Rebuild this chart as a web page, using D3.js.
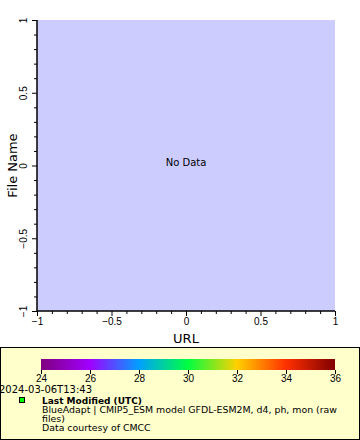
<!doctype html>
<html lang="en">
<head>
  <meta charset="utf-8">
  <title>No Data</title>
  <style>
    body { margin: 0; background: #fff; }
    svg { display: block; font-family: "DejaVu Sans", sans-serif; }
    .tick text { font-size: 10px; }
  </style>
</head>
<body>
  <div id="chart"></div>
  <script src="https://cdn.jsdelivr.net/npm/d3@7"></script>
  <script>
  // axis ranges and tick labels
  var xDomain = [-1, 1];
  var yDomain = [-1, 1];
  var majorTicks = [-1, -0.5, 0, 0.5, 1];
  var minorTicks = [-0.9, -0.8, -0.7, -0.6, -0.4, -0.3, -0.2, -0.1, 0.1, 0.2, 0.3, 0.4, 0.6, 0.7, 0.8, 0.9];
  // colour bar
  var colorDomain = [24, 36];
  var colorTicks = [24, 26, 28, 30, 32, 34, 36];
  var paletteColors = ["#800080", "#a000ff", "#00a0ff", "#00ff40", "#ffd000", "#ff3000", "#800000"];
  var legendLines = ["BlueAdapt | CMIP5_ESM model GFDL-ESM2M, d4, ph, mon (raw", "files)", "Data courtesy of CMCC"];

  var width = 360, height = 440;
  var plot = {left: 37, top: 20, right: 335, bottom: 311};

  var svg = d3.select("#chart").append("svg")
      .attr("width", width)
      .attr("height", height);

  var x = d3.scaleLinear().domain(xDomain).range([plot.left, plot.right]);
  var y = d3.scaleLinear().domain(yDomain).range([plot.bottom, plot.top]);

  // plot background
  svg.append("rect")
      .attr("x", plot.left).attr("y", plot.top)
      .attr("width", plot.right - plot.left)
      .attr("height", plot.bottom - plot.top)
      .attr("fill", "#ccccff");

  svg.append("text")
      .attr("x", x(0)).attr("y", y(0))
      .attr("text-anchor", "middle")
      .attr("font-size", 10)
      .text("No Data");

  // minor ticks first, then major ticks with labels
  svg.append("g")
      .attr("transform", "translate(0," + plot.bottom + ")")
      .call(d3.axisBottom(x).tickValues(minorTicks).tickSize(3).tickFormat(""))
      .call(function(g) { g.select(".domain").remove(); });
  svg.append("g")
      .attr("transform", "translate(" + plot.left + ",0)")
      .call(d3.axisLeft(y).tickValues(minorTicks).tickSize(3).tickFormat(""))
      .call(function(g) { g.select(".domain").remove(); });

  var xAxis = svg.append("g")
      .attr("transform", "translate(0," + plot.bottom + ")")
      .call(d3.axisBottom(x).tickValues(majorTicks).tickSize(5).tickPadding(2).tickFormat(d3.format("")));
  xAxis.select(".domain").remove();
  xAxis.selectAll("text").attr("fill", "#000");

  var yAxis = svg.append("g")
      .attr("transform", "translate(" + plot.left + ",0)")
      .call(d3.axisLeft(y).tickValues(majorTicks).tickSize(5).tickFormat(""));
  yAxis.select(".domain").remove();
  // rotated y tick labels
  yAxis.selectAll(".tick").append("text")
      .attr("transform", "translate(-10,0) rotate(-90)")
      .attr("text-anchor", "middle")
      .attr("fill", "#000")
      .text(function(d) { return d3.format("")(d); });

  // frame lines (left and bottom axes)
  svg.append("path")
      .attr("d", "M" + plot.left + "," + plot.top + "V" + plot.bottom + "H" + plot.right)
      .attr("fill", "none").attr("stroke", "#000").attr("stroke-width", 1.5);

  svg.append("text")
      .attr("x", x(0)).attr("y", 343)
      .attr("text-anchor", "middle")
      .attr("font-size", 13)
      .text("URL");
  svg.append("text")
      .attr("transform", "translate(17," + y(0) + ") rotate(-90)")
      .attr("text-anchor", "middle")
      .attr("font-size", 13)
      .text("File Name");

  // legend box
  svg.append("rect")
      .attr("x", 0.5).attr("y", 347.5)
      .attr("width", width - 1).attr("height", height - 348)
      .attr("fill", "#ffffcc").attr("stroke", "#000");

  var cx = d3.scaleLinear().domain(colorDomain).range([41, 335]);
  var grad = svg.append("defs").append("linearGradient").attr("id", "pal");
  grad.selectAll("stop").data(paletteColors).enter().append("stop")
      .attr("offset", function(d, i) { return i / (paletteColors.length - 1); })
      .attr("stop-color", function(d) { return d; });
  svg.append("rect")
      .attr("x", cx(colorDomain[0])).attr("y", 359)
      .attr("width", cx(colorDomain[1]) - cx(colorDomain[0])).attr("height", 11)
      .attr("fill", "url(#pal)");
  var cAxis = svg.append("g")
      .attr("transform", "translate(0,370)")
      .call(d3.axisBottom(cx).tickValues(colorTicks).tickSize(4).tickPadding(1));
  cAxis.select(".domain").remove();
  cAxis.selectAll("text").attr("fill", "#000");

  svg.append("text")
      .attr("x", -1).attr("y", 393)
      .attr("font-size", 10)
      .text("2024-03-06T13:43");

  svg.append("rect")
      .attr("x", 19.5).attr("y", 397.5).attr("width", 5).attr("height", 5)
      .attr("fill", "#00ff00").attr("stroke", "#000");
  svg.append("text")
      .attr("x", 42).attr("y", 404)
      .attr("font-size", 9).attr("font-weight", "bold")
      .text("Last Modified (UTC)");
  svg.selectAll(".legline").data(legendLines).enter().append("text")
      .attr("class", "legline")
      .attr("x", 42)
      .attr("y", function(d, i) { return 413 + i * 8.8; })
      .attr("font-size", 9.4)
      .text(function(d) { return d; });
  </script>
</body>
</html>
